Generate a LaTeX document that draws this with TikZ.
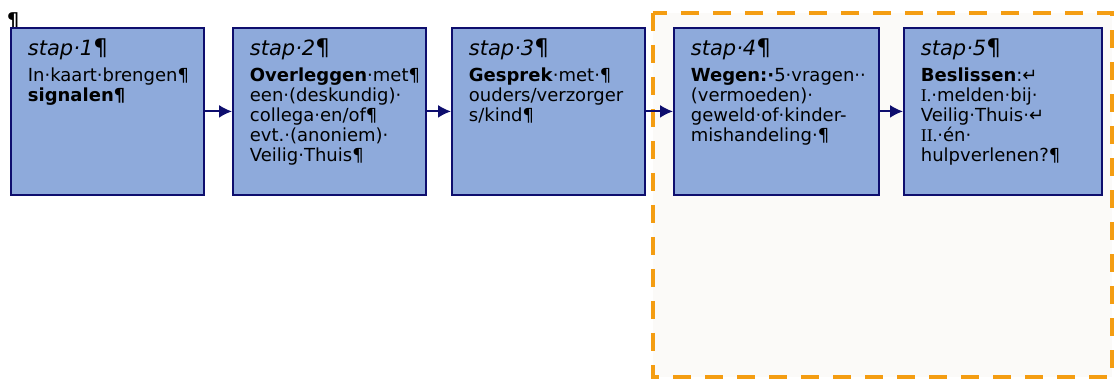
\documentclass[tikz,border=0pt]{standalone}
\usepackage{fontspec}
\setmainfont{DejaVu Sans}
\newfontfamily\romeins{Liberation Serif}
\usetikzlibrary{arrows.meta}
\usepackage{xcolor}

\definecolor{stapblauw}{HTML}{8EAADB}
\definecolor{stapnavy}{HTML}{0E0E6E}
\definecolor{kaderoranje}{HTML}{F49D12}
\definecolor{kadervlak}{HTML}{FBFAF8}

\newcommand{\stapinhoud}[3]{\parbox[c][167pt][t]{#1}{\raggedright\leftskip=17pt
 \fontsize{18}{20}\selectfont
 \rule{0pt}{28pt}{\fontsize{21}{20}\selectfont\itshape stap·#2}{\fontsize{23}{20}\selectfont¶}\\[6pt]#3}}

\begin{document}
\begin{tikzpicture}[x=1pt,y=-1pt,
 stapbox/.style={draw=stapnavy,fill=stapblauw,line width=1.8pt,inner sep=0pt,anchor=north west},
 pijl/.style={stapnavy,line width=1.8pt,-{Latex[length=13pt,width=13pt]}},
 kader/.style={draw=kaderoranje,fill=kadervlak,line width=4pt,dash pattern=on 18pt off 14pt}]
\useasboundingbox (0,0) rectangle (1114,379);
\draw[kader] (653,13) rectangle (1112,377);
\node[anchor=base west,inner sep=0pt,font=\bfseries\fontsize{19}{19}\selectfont] (alinea) at (7,27) {¶};
\node[stapbox] (s1) at (10,27) {\stapinhoud{193pt}{1}{In·kaart·brengen¶\\\textbf{signalen¶}}};
\node[stapbox] (s2) at (232,27) {\stapinhoud{193pt}{2}{\textbf{Overleggen}·met¶\\een·(deskundig)·\\collega·en/of¶\\evt.·(anoniem)·\\Veilig·Thuis¶}};
\node[stapbox] (s3) at (451,27) {\stapinhoud{193pt}{3}{\textbf{Gesprek}·met·¶\\ouders/verzorger\\s/kind¶}};
\node[stapbox] (s4) at (673,27) {\stapinhoud{205pt}{4}{\textbf{Wegen:·}5·vragen··\\(vermoeden)·\\geweld·of·kinder-\\mishandeling·¶}};
\node[stapbox] (s5) at (903,27) {\stapinhoud{198pt}{5}{\textbf{Beslissen}:↵\\{\romeins I.}·melden·bij·\\Veilig·Thuis·↵\\{\romeins II.}·én·\\hulpverlenen?¶}};
\foreach \a/\b in {s1/s2,s2/s3,s3/s4,s4/s5}
 \draw[pijl] (\a) -- (\b);
\end{tikzpicture}
\end{document}
